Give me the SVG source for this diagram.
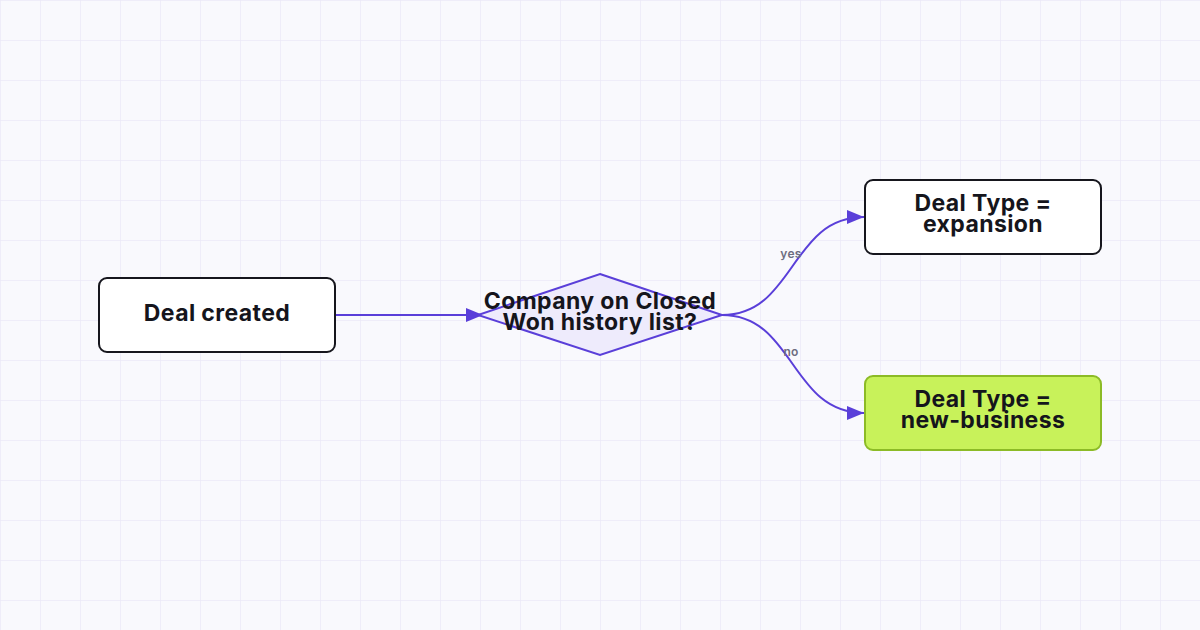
<svg xmlns="http://www.w3.org/2000/svg" width="1200" height="630" viewBox="0 0 1200 630">
  <defs>
    <pattern id="grid" width="40" height="40" patternUnits="userSpaceOnUse">
      <path d="M40 0H0V40" fill="none" stroke="#ebe9f7" stroke-width="1.5"/>
    </pattern>
    <marker id="arrow" viewBox="0 0 17 14" markerWidth="17" markerHeight="14" refX="17" refY="7" orient="auto" markerUnits="userSpaceOnUse">
      <path d="M0 0L17 7L0 14Z" fill="#5a3fd9"/>
    </marker>
    <style>
      .node rect { stroke-width: 2; }
      .plain { fill: #ffffff; stroke: #16161d; }
      .green { fill: #c8f25a; stroke: #8cbb26; }
      .label { font-family: Inter, "Noto Sans", "Liberation Sans", sans-serif; font-weight: 700; font-size: 23px; letter-spacing: 0.4px; fill: #15151c; text-anchor: middle; }
      .edge { fill: none; stroke: #5a3fd9; stroke-width: 2; }
      .elabel { font-family: Inter, "Noto Sans", "Liberation Sans", sans-serif; font-size: 12px; font-weight: 600; letter-spacing: 0.3px; fill: #6e6d80; text-anchor: middle; }
    </style>
  </defs>
  <rect width="1200" height="630" fill="#f9f9fd"/>
  <rect width="1200" height="630" fill="url(#grid)"/>

  <g id="connectors">
    <path class="edge" d="M335 315H483" marker-end="url(#arrow)"/>
    <path class="edge" d="M722 315C795 315 790 217 864 217" marker-end="url(#arrow)"/>
    <path class="edge" d="M722 315C795 315 790 413 864 413" marker-end="url(#arrow)"/>
    <text class="elabel" x="791" y="258">yes</text>
    <text class="elabel" x="791" y="356">no</text>
  </g>

  <g id="deal-created" class="node">
    <rect class="plain" x="99" y="278" width="236" height="74" rx="8"/>
    <text class="label" x="217" y="321">Deal created</text>
  </g>

  <g id="decision" class="node">
    <polygon points="600,274 722,315 600,355 478,315" fill="#eeebfc" stroke="#5a3fd9" stroke-width="2"/>
    <text class="label" x="600" y="309">Company on Closed</text>
    <text class="label" x="600" y="330">Won history list?</text>
  </g>

  <g id="expansion" class="node">
    <rect class="plain" x="865" y="180" width="236" height="74" rx="8"/>
    <text class="label" x="983" y="211">Deal Type =</text>
    <text class="label" x="983" y="232">expansion</text>
  </g>

  <g id="new-business" class="node">
    <rect class="green" x="865" y="376" width="236" height="74" rx="8"/>
    <text class="label" x="983" y="407">Deal Type =</text>
    <text class="label" x="983" y="428">new-business</text>
  </g>
</svg>
